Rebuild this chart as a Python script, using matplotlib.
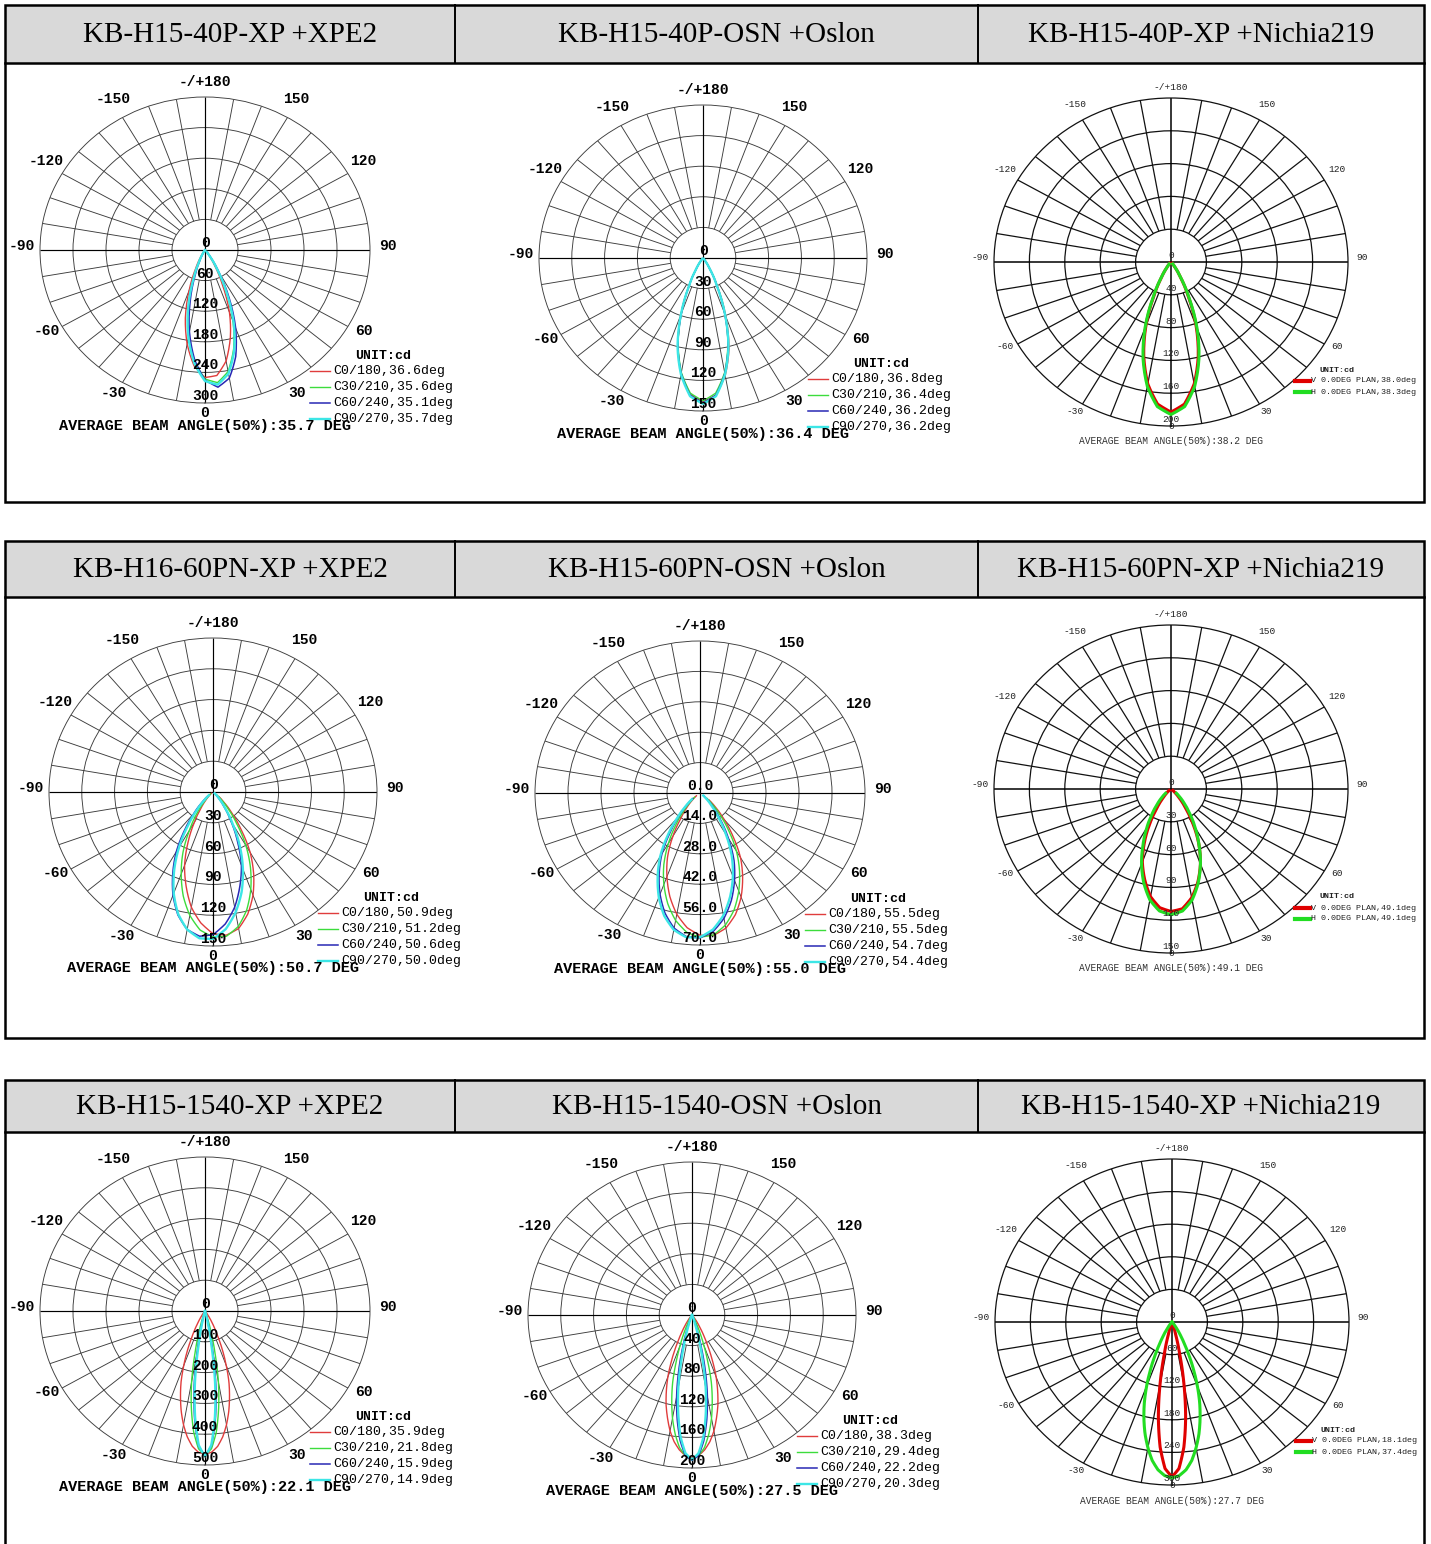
import numpy as np
import matplotlib
matplotlib.use("Agg")
import matplotlib.pyplot as plt
from matplotlib.lines import Line2D
from matplotlib.patches import Rectangle

W, H = 1431, 1544

# column titles of the three tables
head_1 = ["KB-H15-40P-XP +XPE2", "KB-H15-40P-OSN +Oslon", "KB-H15-40P-XP +Nichia219"]
head_2 = ["KB-H16-60PN-XP +XPE2", "KB-H15-60PN-OSN +Oslon", "KB-H15-60PN-XP +Nichia219"]
head_3 = ["KB-H15-1540-XP +XPE2", "KB-H15-1540-OSN +Oslon", "KB-H15-1540-XP +Nichia219"]

angle_ticks = [180, 150, 120, 90, 60, 30, 0, -30, -60, -90, -120, -150]
angle_labels = ["-/+180", "150", "120", "90", "60", "30", "0", "-30", "-60", "-90", "-120", "-150"]

c_planes = ["C0/180", "C30/210", "C60/240", "C90/270"]
nichia_planes = ["V 0.0DEG PLAN", "H 0.0DEG PLAN"]

# gamma angles (deg) of the measured points
gamma_40 = [-40, -35, -30, -25, -20, -15, -10, -5, 0, 5, 10, 15, 20, 25, 30, 35, 40]
gamma_60 = [-50, -45, -40, -35, -30, -25, -20, -15, -10, -5, 0, 5, 10, 15, 20, 25, 30, 35, 40, 45, 50]
gamma_15 = [-40, -37.5, -35, -32.5, -30, -27.5, -25, -22.5, -20, -17.5, -15, -12.5, -10, -7.5, -5, -2.5, 0,
            2.5, 5, 7.5, 10, 12.5, 15, 17.5, 20, 22.5, 25, 27.5, 30, 32.5, 35, 37.5, 40]

# candela values, row 1
a_c0 = [1, 5, 15, 40, 84, 138, 187, 228, 250, 247, 221, 178, 130, 74, 35, 12, 4]
a_c30 = [0, 2, 8, 25, 60, 115, 171, 219, 253, 261, 242, 201, 149, 92, 44, 17, 5]
a_c60 = [0, 1, 6, 20, 51, 104, 163, 216, 255, 270, 255, 216, 163, 104, 51, 20, 6]
a_c90 = [0, 2, 8, 26, 63, 119, 174, 223, 257, 265, 246, 205, 153, 94, 46, 18, 5]
beam_a = [36.6, 35.6, 35.1, 35.7]

b_c0 = [1, 4, 13, 30, 58, 89, 115, 134, 141, 135, 117, 92, 61, 32, 14, 5, 1]
b_c30 = [1, 4, 13, 31, 59, 88, 114, 133, 140, 133, 114, 88, 59, 31, 13, 4, 1]
b_c60 = [1, 4, 12, 30, 58, 89, 115, 135, 142, 135, 115, 89, 58, 30, 12, 4, 1]
b_c90 = [1, 4, 13, 30, 59, 90, 116, 136, 143, 136, 116, 90, 59, 30, 13, 4, 1]
beam_b = [36.8, 36.4, 36.2, 36.2]

c_v = [2, 8, 21, 46, 83, 119, 151, 174, 183, 174, 151, 119, 83, 46, 21, 8, 2]
c_h = [3, 8, 22, 48, 86, 122, 154, 177, 186, 177, 154, 122, 86, 48, 22, 8, 3]
beam_c = [38.0, 38.3]

# row 2
d_c0 = [2, 4, 10, 19, 34, 54, 76, 95, 114, 128, 138, 140, 135, 123, 107, 88, 68, 45, 27, 14, 7]
d_c30 = [3, 6, 13, 26, 43, 65, 85, 105, 122, 135, 141, 141, 133, 119, 101, 81, 60, 38, 22, 11, 5]
d_c60 = [6, 14, 27, 45, 67, 87, 107, 124, 136, 141, 139, 129, 114, 95, 76, 53, 33, 18, 9, 4, 2]
d_c90 = [5, 11, 23, 40, 62, 84, 105, 123, 136, 143, 143, 134, 119, 101, 80, 58, 36, 20, 10, 4, 2]
beam_d = [50.9, 51.2, 50.6, 50.0]

e_c0 = [2, 4.4, 8.6, 14, 23, 32.6, 41, 49.4, 56.7, 62.3, 65.5, 65.8, 63.2, 58, 51, 42.8, 34.4, 24.4, 16, 9.4, 5]
e_c30 = [3, 6, 10.6, 17.8, 26.8, 36.3, 44.8, 52.8, 59.6, 64.4, 66.4, 65.6, 61.8, 55.8, 48.1, 39.7, 30.9, 21.3, 13.3, 7.4, 3.9]
e_c60 = [4, 8, 13.7, 22, 32.3, 41, 49.6, 57.3, 63.2, 66.4, 66.7, 64, 58.6, 51.3, 42.8, 34.1, 24, 15.4, 9, 4.7, 2.1]
e_c90 = [4.5, 8.7, 15, 24, 33.8, 42.5, 51.1, 58.6, 64, 66.7, 66.4, 63.1, 57.2, 49.4, 40.8, 31.8, 22, 13.4, 7.5, 3.9, 1.8]
beam_e = [55.5, 55.5, 54.7, 54.4]

f_v = [2, 5, 10, 20, 35, 53, 71, 86, 100, 109, 112, 110, 101, 88, 73, 56, 38, 22, 12, 5, 2]
f_h = [6, 11, 18, 28, 41, 56, 73, 89, 103, 112, 115, 112, 103, 89, 73, 56, 41, 28, 18, 11, 6]
beam_f = [49.1, 49.1]

# row 3
g_c0 = [0, 5, 12, 22, 39, 64, 95, 140, 188, 241, 287, 333, 375, 412, 441, 459, 465,
        459, 441, 412, 375, 333, 287, 241, 188, 140, 95, 64, 39, 22, 12, 5, 0]
g_c30 = [0, 0, 0, 0, 0, 0, 1, 3, 9, 28, 69, 140, 234, 317, 394, 448, 468,
         448, 394, 317, 234, 140, 69, 28, 9, 3, 1, 0, 0, 0, 0, 0, 0]
g_c60 = [0, 0, 0, 0, 0, 0, 0, 0, 0, 4, 16, 55, 139, 254, 357, 439, 470,
         439, 357, 254, 139, 55, 16, 4, 0, 0, 0, 0, 0, 0, 0, 0, 0]
g_c90 = [0, 0, 0, 0, 0, 0, 0, 0, 0, 2, 9, 38, 109, 233, 345, 436, 472,
         436, 345, 233, 109, 38, 9, 2, 0, 0, 0, 0, 0, 0, 0, 0, 0]
beam_g = [35.9, 21.8, 15.9, 14.9]

h_c0 = [0, 5, 8, 14, 22, 33, 48, 66, 86, 104, 122, 138, 154, 167, 177, 184, 186,
        184, 177, 167, 154, 138, 122, 104, 86, 66, 48, 33, 22, 14, 8, 5, 0]
h_c30 = [0, 0, 0, 1, 3, 7, 14, 26, 42, 64, 91, 114, 137, 157, 174, 184, 188,
         184, 174, 157, 137, 114, 91, 64, 42, 26, 14, 7, 3, 1, 0, 0, 0]
h_c60 = [0, 0, 0, 0, 0, 0, 1, 3, 9, 22, 44, 75, 108, 138, 165, 184, 190,
         184, 165, 138, 108, 75, 44, 22, 9, 3, 1, 0, 0, 0, 0, 0, 0]
h_c90 = [0, 0, 0, 0, 0, 0, 0, 1, 5, 12, 30, 59, 96, 129, 160, 181, 189,
         181, 160, 129, 96, 59, 30, 12, 5, 1, 0, 0, 0, 0, 0, 0, 0]
beam_h = [38.3, 29.4, 22.2, 20.3]

i_v = [0, 0, 0, 0, 0, 0, 0, 0, 2, 8, 24, 60, 117, 177, 231, 270, 285,
       270, 231, 177, 117, 60, 24, 8, 2, 0, 0, 0, 0, 0, 0, 0, 0]
i_h = [0, 6, 10, 19, 30, 46, 69, 96, 126, 156, 184, 211, 235, 257, 273, 283, 287,
       283, 273, 257, 235, 211, 184, 156, 126, 96, 69, 46, 30, 19, 10, 6, 0]
beam_i = [18.1, 37.4]

# radial scale labels
rl_a = ["0", "60", "120", "180", "240", "300"]
rl_b = ["0", "30", "60", "90", "120", "150"]
rl_c = ["0", "40", "80", "120", "160", "200"]
rl_e = ["0.0", "14.0", "28.0", "42.0", "56.0", "70.0"]
rl_g = ["0", "100", "200", "300", "400", "500"]

avg_beam = [35.7, 36.4, 38.2, 50.7, 55.0, 49.1, 22.1, 27.5, 27.7]

c4_colors = ["#e03c3c", "#3cdc3c", "#2828b4", "#3ce6e6"]
c4_widths = [1.0, 1.0, 1.1, 1.7]
n_colors = ["#e00000", "#22dd22"]

fig = plt.figure(figsize=(14.31, 15.44), dpi=100)


def fx(x):
    return x / W


def fy(y):
    return 1 - y / H


# tables
col_x = [5, 455, 978, 1424]
blocks = [(5, 63, 502, head_1), (541, 597, 1038, head_2), (1080, 1132, 1570, head_3)]
for top, hb, bot, heads in blocks:
    fig.add_artist(Rectangle((fx(5), fy(hb)), fx(1419), (hb - top) / H, transform=fig.transFigure,
                             facecolor="#d9d9d9", edgecolor="none", zorder=0.5))
    fig.add_artist(Rectangle((fx(5), fy(bot)), fx(1419), (bot - top) / H, transform=fig.transFigure,
                             facecolor="none", edgecolor="black", linewidth=1.8, zorder=3))
    fig.add_artist(Line2D([fx(5), fx(1424)], [fy(hb), fy(hb)], transform=fig.transFigure,
                          color="black", linewidth=1.8, zorder=3))
    for x in col_x[1:3]:
        fig.add_artist(Line2D([fx(x), fx(x)], [fy(top), fy(hb)], transform=fig.transFigure,
                              color="black", linewidth=1.4, zorder=3))
    for k, t in enumerate(heads):
        fig.text(fx((col_x[k] + col_x[k + 1]) / 2), fy((top + hb) / 2 + 1), t, ha="center", va="center",
                 family="Liberation Serif", fontsize=21, zorder=4)


def draw_panel(cx, cy, rx, ry, rlabels, gamma, series, beams, avg, nichia=False):
    ax = fig.add_axes([fx(cx - rx), fy(cy + ry), 2 * rx / W, 2 * ry / H], projection="polar")
    ax.set_aspect("auto")
    ax.set_theta_zero_location("S")
    ax.set_theta_direction(1)
    rmax = float(rlabels[-1])
    step = rmax / 5
    ax.set_ylim(0, rmax)
    ax.patch.set_alpha(0)
    gc = "#111111" if nichia else "#3c3c3c"
    glw = 0.9 if nichia else 0.65
    ax.set_xticks([])
    ax.set_yticks([step * k for k in range(1, 5)])
    ax.set_yticklabels([])
    ax.yaxis.grid(True, color=gc, linewidth=glw)
    ax.xaxis.grid(False)
    ax.spines["polar"].set_color(gc)
    ax.spines["polar"].set_linewidth(glw)
    spokes = [a for a in range(0, 360, 10) if a % 90]
    ax.vlines(np.deg2rad(spokes), step, rmax, colors=gc, linewidth=glw)
    ax.vlines(np.deg2rad([0, 90, 180, 270]), 0, rmax, colors="black", linewidth=glw + 0.2)

    if nichia:
        colors, widths = n_colors, [2.2, 2.2]
        fs_a, fw, tc, rf, r0, r180 = 6.8, "normal", "#222222", 1.08, 1.03, 1.04
    else:
        colors, widths = c4_colors, c4_widths
        fs_a, fw, tc, rf, r0, r180 = 10.5, "bold", "black", 1.11, 1.09, 1.07
    th = np.deg2rad(gamma)
    for vals, c, lw in zip(series, colors, widths):
        ln, = ax.plot(th, vals, color=c, linewidth=lw, zorder=5)
        # draw each segment along the polar grid instead of as a chord
        ln.get_path()._interpolation_steps = 8

    for a, lab in zip(angle_ticks, angle_labels):
        f = r0 if a == 0 else (r180 if a == 180 else rf)
        ax.annotate(lab, xy=(np.deg2rad(a), rmax * f), xytext=(0, 3), textcoords="offset points",
                    ha="center", va="center", fontsize=fs_a, fontweight=fw, color=tc,
                    family="Liberation Mono", annotation_clip=False)
    for k, lab in enumerate(rlabels):
        ax.annotate(lab, xy=(0, step * k), xytext=(0, 1.5 if nichia else 0), textcoords="offset points",
                    ha="center", va="bottom", fontsize=fs_a, fontweight=fw, color=tc,
                    family="Liberation Mono", annotation_clip=False, zorder=6)

    if nichia:
        fig.text(fx(cx + 166), fy(cy + 108), "UNIT:cd", ha="center", va="center", fontsize=6,
                 fontweight="bold", family="Liberation Mono", color=tc)
        for k, (name, b) in enumerate(zip(nichia_planes, beams)):
            y = cy + 119 + 11 * k
            fig.add_artist(Line2D([fx(cx + 124), fx(cx + 139)], [fy(y), fy(y)], transform=fig.transFigure,
                                  color=colors[k], linewidth=3))
            fig.text(fx(cx + 140), fy(y), f"{name},{b:.1f}deg", ha="left", va="center", fontsize=6,
                     family="Liberation Mono", color=tc)
        fig.text(fx(cx), fy(cy + 179), f"AVERAGE BEAM ANGLE(50%):{avg:.1f} DEG", ha="center", va="center",
                 fontsize=6.9, family="Liberation Mono", color="#333333")
    else:
        fig.text(fx(cx + 178), fy(cy + 106), "UNIT:cd", ha="center", va="center", fontsize=9.5,
                 fontweight="bold", family="Liberation Mono")
        for k, (name, b) in enumerate(zip(c_planes, beams)):
            y = cy + 121 + 16 * k
            fig.add_artist(Line2D([fx(cx + 105), fx(cx + 125)], [fy(y), fy(y)], transform=fig.transFigure,
                                  color=colors[k], linewidth=widths[k]))
            fig.text(fx(cx + 128), fy(y), f"{name},{b:.1f}deg", ha="left", va="center", fontsize=9.5,
                     family="Liberation Mono")
        fig.text(fx(cx), fy(cy + 176), f"AVERAGE BEAM ANGLE(50%):{avg:.1f} DEG", ha="center", va="center",
                 fontsize=11, fontweight="bold", family="Liberation Mono")


draw_panel(205, 250, 165, 153, rl_a, gamma_40, [a_c0, a_c30, a_c60, a_c90], beam_a, avg_beam[0])
draw_panel(703, 258, 164, 153, rl_b, gamma_40, [b_c0, b_c30, b_c60, b_c90], beam_b, avg_beam[1])
draw_panel(1171, 262, 177, 164, rl_c, gamma_40, [c_v, c_h], beam_c, avg_beam[2], nichia=True)
draw_panel(213, 792, 164, 154, rl_b, gamma_60, [d_c0, d_c30, d_c60, d_c90], beam_d, avg_beam[3])
draw_panel(700, 793, 165, 152, rl_e, gamma_60, [e_c0, e_c30, e_c60, e_c90], beam_e, avg_beam[4])
draw_panel(1171, 789, 177, 164, rl_b, gamma_60, [f_v, f_h], beam_f, avg_beam[5], nichia=True)
draw_panel(205, 1311, 165, 154, rl_g, gamma_15, [g_c0, g_c30, g_c60, g_c90], beam_g, avg_beam[6])
draw_panel(692, 1315, 164, 153, rl_c, gamma_15, [h_c0, h_c30, h_c60, h_c90], beam_h, avg_beam[7])
draw_panel(1172, 1322, 177, 163, rl_a, gamma_15, [i_v, i_h], beam_i, avg_beam[8], nichia=True)

fig.savefig("out.png", dpi=100)
